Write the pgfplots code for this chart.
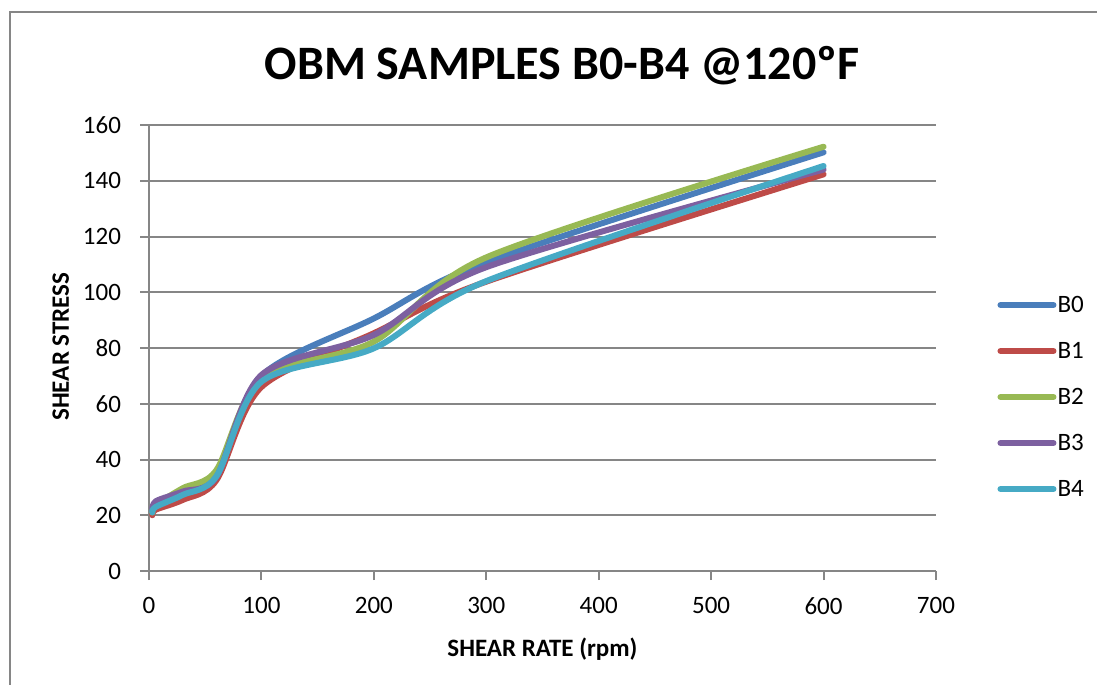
\documentclass[border=0pt]{standalone}
\usepackage{fontspec}
\setmainfont{Carlito}
\usepackage{pgfplots}
\pgfplotsset{compat=1.18}
\usepackage{pgfplotstable}
\definecolor{cB0}{HTML}{4A7EBB}
\definecolor{cB1}{HTML}{BE4B48}
\definecolor{cB2}{HTML}{98B954}
\definecolor{cB3}{HTML}{7D60A0}
\definecolor{cB4}{HTML}{46AAC5}
\definecolor{gridgray}{HTML}{868686}
\pgfplotstableread{
x B0 B1 B2 B3 B4
3 21 20 21 21.5 21
6 24 22 23.7 25 23
30 28.5 25.5 29.7 28.5 27.3
60 34.5 32.6 36.2 33.8 34
100 70 66 69.1 70.3 67.9
200 90.6 85.3 82.3 84.7 79.9
300 110.8 103.8 112.5 109 104
600 150.2 142.3 152.2 144 145.3
}\data
\begin{document}
\begin{tikzpicture}
\path[use as bounding box] (0,0) rectangle (438.8pt,273.6pt);
\clip (0,0) rectangle (438.8pt,273.6pt);
\begin{axis}[
  at={(59.6pt,45.2pt)}, anchor=south west,
  scale only axis, width=314.8pt, height=178.4pt,
  xmin=0, xmax=700, ymin=0, ymax=160,
  xtick={0,100,...,700}, ytick={0,20,...,160},
  axis lines*=left,
  axis line style={gridgray, line width=0.8pt},
  ymajorgrids,
  major grid style={gridgray, line width=0.8pt},
  tick align=outside,
  major tick length=3.6pt,
  tick style={gridgray, line width=0.8pt},
  /pgf/number format/assume math mode=true,
  /pgf/number format/1000 sep={},
  ticklabel style={font=\fontsize{10}{12}\selectfont, text=black},
  xticklabel style={anchor=north, inner sep=0pt, yshift=-6.8pt},
  yticklabel style={anchor=east, inner sep=0pt, xshift=-7.4pt},
  xlabel={\bfseries SHEAR RATE (rpm)},
  ylabel={\bfseries SHEAR STRESS},
  label style={font=\fontsize{10}{12}\selectfont},
  xlabel style={at={(axis description cs:0.5,-0.1928)}, anchor=base},
  ylabel style={at={(axis description cs:-0.1017,0.503)}, anchor=base, rotate=0},
  title={\bfseries OBM SAMPLES B0-B4 @120ºF},
  title style={at={(axis description cs:0.5248,1.069)}, anchor=base, yshift=0pt, font=\fontsize{19.2}{23}\selectfont},
  legend style={at={(axis description cs:1.0775,0.62)}, anchor=north west, draw=none, fill=none,
    font=\fontsize{10}{12}\selectfont, row sep=11.4pt, inner sep=0pt,
    nodes={inner sep=0pt, text height=7pt, text depth=0pt}},
  legend cell align=left,
  legend image code/.code={\draw[#1, line cap=round] (0pt,-0.5pt) -- (21.2pt,-0.5pt);},
  every axis plot/.append style={line width=2.4pt, line cap=round, line join=round, smooth, tension=0.5},
  clip=false,
]
\addplot[cB0] table[x=x, y=B0] {\data}; \addlegendentry{\hspace{0.45pt}B0}
\addplot[cB1] table[x=x, y=B1] {\data}; \addlegendentry{\hspace{0.45pt}B1}
\addplot[cB2] table[x=x, y=B2] {\data}; \addlegendentry{\hspace{0.45pt}B2}
\addplot[cB3] table[x=x, y=B3] {\data}; \addlegendentry{\hspace{0.45pt}B3}
\addplot[cB4] table[x=x, y=B4] {\data}; \addlegendentry{\hspace{0.45pt}B4}
\end{axis}
\draw[gridgray, line width=0.8pt] (4pt,-20pt) rectangle (460pt,268.8pt);
\end{tikzpicture}
\end{document}
